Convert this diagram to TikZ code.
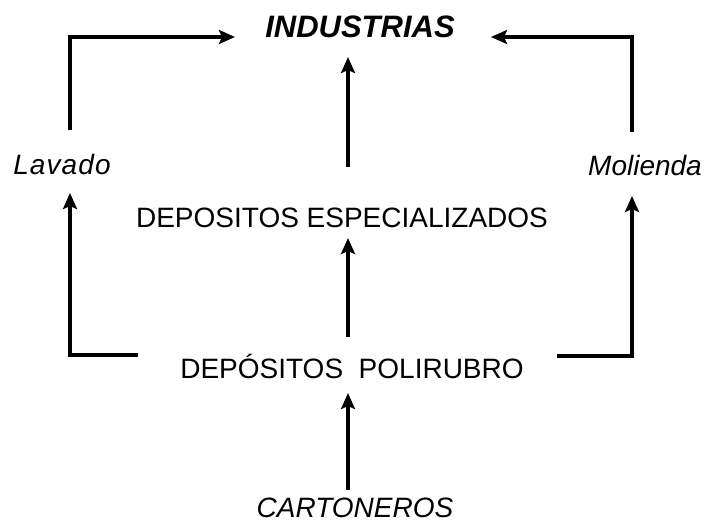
\documentclass[tikz,border=0pt]{standalone}
\usepackage{fontspec}
\setmainfont{Liberation Sans}
\usetikzlibrary{arrows.meta}
\tikzset{
  lbl/.style={inner sep=0pt, font=\fontsize{28}{30}\selectfont},
  ilbl/.style={inner sep=0pt, font=\fontsize{28}{30}\selectfont\itshape},
  arr/.style={line width=4pt, -{Stealth[length=16pt,width=14pt,inset=3pt]}},
}
\begin{document}
\begin{tikzpicture}[x=1pt,y=-1pt]
\useasboundingbox (0,0) rectangle (710,524);
% texts
\node[inner sep=0pt, font=\fontsize{31}{33}\selectfont\bfseries\itshape] (ind) at (360,27) {INDUSTRIAS};
\node[ilbl] (lav) at (62,164) {\addfontfeatures{LetterSpace=4}Lavado};
\node[ilbl] (mol) at (645,165) {Molienda};
\node[lbl] (esp) at (342,218) {DEPOSITOS ESPECIALIZADOS};
\node[lbl] (pol) at (352,366) {DEPÓSITOS\ \ POLIRUBRO};
\node[ilbl] (car) at (355,508) {CARTONEROS};
% connector ends
\coordinate (lavUp) at (70,130);
\coordinate (indL) at (235,37);
\coordinate (molUp) at (632,132);
\coordinate (indR) at (491,37);
\coordinate (indB) at (348,57);
\coordinate (espT) at (348,167);
\coordinate (espB) at (348,238);
\coordinate (polT) at (348,337);
\coordinate (polB) at (348,393);
\coordinate (carT) at (348,490);
\coordinate (polL) at (138,355);
\coordinate (lavDn) at (70,193);
\coordinate (polR) at (557,356);
\coordinate (molDn) at (632,196);
% connectors
\draw[arr] (lavUp) |- (indL);
\draw[arr] (molUp) |- (indR);
\draw[arr] (espT) -- (indB);
\draw[arr] (polT) -- (espB);
\draw[arr] (carT) -- (polB);
\draw[arr] (polL) -| (lavDn);
\draw[arr] (polR) -| (molDn);
\end{tikzpicture}
\end{document}
